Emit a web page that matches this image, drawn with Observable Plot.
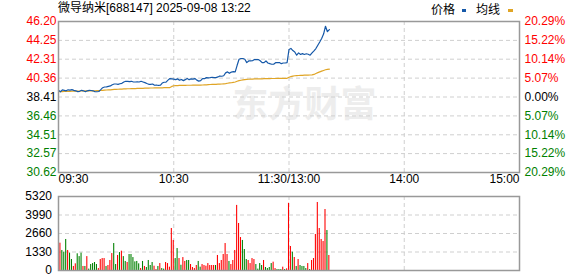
<!DOCTYPE html>
<html><head><meta charset="utf-8">
<script src="https://cdn.jsdelivr.net/npm/d3@7"></script>
<script src="https://cdn.jsdelivr.net/npm/@observablehq/plot@0.6"></script>
<style>
body{margin:0;background:#fff;}
#wrap{position:relative;width:578px;height:276px;overflow:hidden;font-family:"Liberation Sans",Arial,"Noto Sans CJK SC",sans-serif;font-size:12px;color:#000;}
.abs{position:absolute;line-height:12px;white-space:nowrap;}
.sw{position:absolute;height:3px;}
#p1{position:absolute;left:0;top:0;}
#p2{position:absolute;left:0;top:190px;}
</style></head><body>
<div id="wrap">
  <div id="p1"></div><div id="p2"></div>
  <div class="abs" id="title" style="left:58px;top:2px;">微导纳米[688147] 2025-09-08 13:22</div>
  <div class="abs" style="left:431px;top:4px;">价格</div>
  <div class="sw" style="left:462px;top:9px;width:4px;background:#1558a8;"></div>
  <div class="abs" style="left:476px;top:4px;">均线</div>
  <div class="sw" style="left:508px;top:9px;width:5px;background:#e0a526;"></div>
</div>
<script>
// ---- data ----
const priceTicks = [46.20, 44.25, 42.31, 40.36, 38.41, 36.46, 34.51, 32.57, 30.62];
const pctLabels = ["20.29%", "15.22%", "10.14%", "5.07%", "0.00%", "5.07%", "10.14%", "15.22%", "20.29%"];
const volTicks = [0, 1330, 2660, 3990, 5320];
const timeLabels = [
  {t: 0, label: "09:30"}, {t: 60, label: "10:30"}, {t: 120, label: "11:30/13:00"},
  {t: 180, label: "14:00"}, {t: 240, label: "15:00"}
];
// minute price, index 0 = 09:30
const price = [
  39.10,38.95,39.15,39.10,39.05,39.15,39.12,39.17,39.10,39.05,
  38.97,39.00,39.10,39.05,38.95,39.05,39.10,39.08,39.05,38.95,
  38.95,38.98,39.17,39.37,39.44,39.45,39.51,39.55,39.68,39.75,
  39.75,39.72,39.78,39.82,39.96,40.03,40.03,40.00,40.03,39.96,
  39.96,39.98,39.96,40.03,39.96,39.89,39.80,39.72,39.72,39.75,
  39.62,39.65,39.60,39.62,39.85,39.93,39.95,40.15,40.31,40.28,
  40.25,40.20,40.28,40.15,40.22,40.10,40.20,40.31,40.20,40.28,
  40.25,40.31,40.15,40.05,40.10,40.31,40.30,40.41,40.38,40.41,
  40.45,40.41,40.41,40.48,40.58,40.55,40.60,40.90,41.00,40.85,
  40.98,41.02,41.00,41.68,42.30,42.38,42.38,42.30,41.96,42.13,
  42.13,42.15,42.27,42.27,42.27,42.15,41.96,41.96,42.13,41.92,
  41.85,41.79,41.79,41.95,41.96,41.96,41.85,41.92,41.92,41.96,
  43.31,43.42,43.20,43.06,42.72,42.96,42.80,42.89,42.80,42.87,
  42.82,42.72,42.96,43.17,43.41,43.75,44.09,44.45,44.90,45.71,
  45.15,45.37
];
// average price line
const avg = [
  38.95,38.96,38.97,38.98,38.99,39.00,39.00,39.01,39.01,39.02,
  39.02,39.03,39.03,39.03,39.04,39.04,39.04,39.05,39.05,39.05,
  39.06,39.06,39.08,39.10,39.12,39.13,39.14,39.15,39.17,39.19,
  39.20,39.21,39.22,39.23,39.24,39.25,39.26,39.26,39.27,39.27,
  39.28,39.29,39.30,39.31,39.31,39.32,39.33,39.33,39.34,39.34,
  39.35,39.35,39.36,39.36,39.36,39.37,39.37,39.38,39.38,39.50,
  39.57,39.58,39.59,39.60,39.60,39.61,39.61,39.62,39.62,39.62,
  39.63,39.63,39.63,39.64,39.64,39.65,39.66,39.67,39.69,39.70,
  39.71,39.72,39.72,39.73,39.74,39.75,39.77,39.79,39.83,39.86,
  39.88,39.92,39.96,40.03,40.10,40.14,40.18,40.21,40.23,40.24,
  40.25,40.26,40.27,40.28,40.28,40.29,40.29,40.30,40.30,40.31,
  40.31,40.32,40.32,40.32,40.33,40.33,40.33,40.34,40.34,40.34,
  40.45,40.52,40.57,40.60,40.62,40.63,40.64,40.65,40.66,40.66,
  40.67,40.68,40.70,40.74,40.84,40.92,41.00,41.08,41.15,41.22,
  41.26,41.28
];
// volume per minute, index 0 = 09:31
const volume = [
  1965,1440,1320,2230,1440,1250,790,290,480,1200,
  1000,1250,290,290,1000,100,430,500,575,430,
  140,790,860,860,290,360,720,1220,1940,430,
  1080,1290,1390,1000,650,575,1150,1150,930,620,
  650,480,140,650,290,215,720,360,575,310,
  70,290,500,140,100,575,500,240,3020,2160,
  860,1580,860,380,930,650,720,720,430,215,
  140,360,650,240,430,360,310,500,360,360,
  360,360,1080,500,720,1150,1940,1150,650,430,
  720,1440,4680,3380,2370,2160,1510,790,720,500,
  860,790,430,100,500,360,720,215,140,215,
  500,600,140,70,70,70,240,70,120,4830,
  1725,1318,935,290,790,360,290,290,140,500,
  70,720,860,2590,4890,3020,2230,2085,4385,2875,1080
];
// 1 = up (red), -1 = down (green)
const volDir = [
  1,-1,-1,-1,1,-1,-1,1,1,-1,
  -1,-1,1,-1,1,-1,-1,-1,-1,-1,
  1,1,1,1,-1,1,1,1,-1,-1,
  1,-1,1,-1,-1,1,-1,-1,-1,-1,
  -1,-1,1,-1,1,-1,-1,-1,-1,1,
  1,-1,1,-1,-1,1,1,1,1,1,
  -1,-1,1,-1,1,1,-1,-1,1,1,
  1,1,-1,-1,1,1,1,1,1,1,
  1,-1,1,1,1,1,1,1,-1,1,
  1,1,1,1,1,-1,-1,-1,1,1,
  1,1,-1,-1,-1,-1,1,-1,-1,-1,
  -1,1,1,-1,-1,-1,1,-1,1,1,
  1,-1,1,-1,1,-1,-1,-1,-1,1,
  -1,1,1,1,1,1,1,1,1,-1,1
];

// ---- build ----
const RED = "#ff0000", GREEN = "#008000";
const BLUE = "#1558a8", ORANGE = "#e0a526";
const gridStyle = {stroke: "#cfcfcf", strokeOpacity: 1, strokeDasharray: "4,3"};
const fontStyle = {fontFamily: "'Liberation Sans', Arial, sans-serif", fontSize: "12px", background: "transparent", overflow: "visible"};

const pData = price.map((p, i) => ({i, p, a: avg[i]}));
const tickRows = priceTicks.map((v, k) => ({v, pct: pctLabels[k], k}));
const base = priceTicks[4];
const tickColor = v => v > base ? RED : v < base ? GREEN : "#000";

const p1 = Plot.plot({
  width: 578, height: 190,
  marginLeft: 58, marginRight: 59, marginTop: 21, marginBottom: 18,
  x: {domain: [0, 240], axis: null},
  y: {domain: [30.62, 46.20], axis: null},
  color: {type: "identity"},
  style: fontStyle,
  marks: [
    Plot.text(["东方财富"], {frameAnchor: "top-left", dx: 246, dy: 70, textAnchor: "middle",
      fontSize: 36, fontWeight: "bold", fill: "#ededed",
      fontFamily: "'Noto Sans CJK SC', sans-serif"}),
    Plot.gridY(priceTicks.slice(1, -1), gridStyle),
    Plot.gridX([60, 120, 180], gridStyle),
    Plot.line(pData, {x: "i", y: "a", stroke: ORANGE, strokeWidth: 1.2}),
    Plot.line(pData, {x: "i", y: "p", stroke: BLUE, strokeWidth: 1.2}),
    Plot.frame({stroke: "#999", strokeWidth: 1.5}),
    Plot.text(tickRows, {y: "v", text: d => d.v.toFixed(2), frameAnchor: "left",
      textAnchor: "end", dx: -2, fill: d => tickColor(d.v)}),
    Plot.text(tickRows, {y: "v", text: "pct", frameAnchor: "right",
      textAnchor: "start", dx: 5, fill: d => tickColor(d.v)}),
    Plot.text(timeLabels.filter(d => d.t === 0), {x: "t", text: "label", frameAnchor: "bottom", dy: 10, textAnchor: "start", fill: "#000"}),
    Plot.text(timeLabels.filter(d => d.t > 0 && d.t < 240), {x: "t", text: "label", frameAnchor: "bottom", dy: 10, textAnchor: "middle", fill: "#000"}),
    Plot.text(timeLabels.filter(d => d.t === 240), {x: "t", text: "label", frameAnchor: "bottom", dy: 10, textAnchor: "end", fill: "#000"})
  ]
});
document.getElementById("p1").appendChild(p1);

const vData = volume.map((v, k) => ({i: k + 1, v, dir: volDir[k]}));
const p2 = Plot.plot({
  width: 578, height: 86,
  marginLeft: 58, marginRight: 59, marginTop: 6, marginBottom: 6,
  x: {domain: [0, 240], axis: null},
  y: {domain: [0, 5320], axis: null},
  color: {type: "identity"},
  style: fontStyle,
  marks: [
    Plot.gridY(volTicks.slice(1, -1), gridStyle),
    Plot.gridX([60, 120, 180], gridStyle),
    Plot.rectY(vData, {x1: d => d.i - 0.28, x2: d => d.i + 0.28, y1: 0, y2: "v",
      fill: d => d.dir > 0 ? RED : GREEN, inset: 0}),
    Plot.frame({stroke: "#999", strokeWidth: 1.5}),
    Plot.text(volTicks, {y: d => d, text: d => String(d), frameAnchor: "left",
      textAnchor: "end", dx: -6.5, fill: "#000"})
  ]
});
document.getElementById("p2").appendChild(p2);
</script>
</body></html>
